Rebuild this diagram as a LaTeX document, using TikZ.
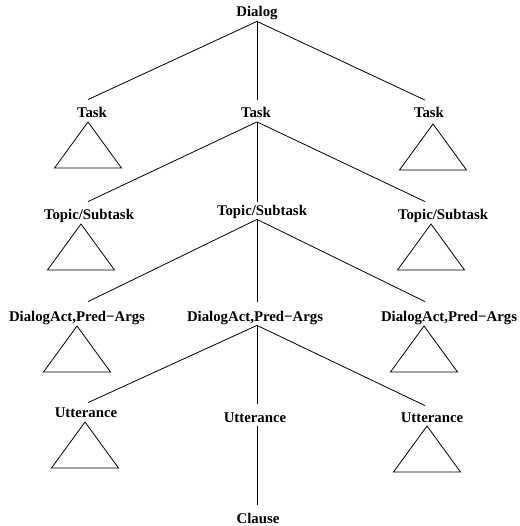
\documentclass[tikz,border=0pt]{standalone}
\usepackage{fontspec}
\setmainfont{Liberation Serif}

\tikzset{
  lbl/.style={inner sep=0pt,text height=10pt,text depth=3pt,
    font=\fontsize{14.8}{16}\selectfont\bfseries},
  subtree/.pic={\draw (0,0) -- (-33.5,46) -- (33.5,46) -- cycle;}
}

\begin{document}
\begin{tikzpicture}
  [x=1pt,y=-1pt,line width=0.8pt]
  \useasboundingbox (0,0) rectangle (519,526);
  % columns the branches run to
  \coordinate (cL) at (88,0);
  \coordinate (cM) at (257,0);
  \coordinate (cR) at (425,0);

  \node[lbl] (dlg) at (257,13.5) {Dialog};

  \node[lbl] (task1) at (92,114) {Task};
  \node[lbl] (task2) at (256,114) {Task};
  \node[lbl] (task3) at (429,114.5) {Task};

  \node[lbl] (top1) at (89,215.5) {Topic/Subtask};
  \node[lbl] (top2) at (262,211.5) {Topic/Subtask};
  \node[lbl] (top3) at (443,215.5) {Topic/Subtask};

  \node[lbl] (da1) at (77,317.5) {DialogAct,Pred−Args};
  \node[lbl] (da2) at (255,317.5) {DialogAct,Pred−Args};
  \node[lbl] (da3) at (449,317.5) {DialogAct,Pred−Args};

  \node[lbl] (utt1) at (86,413.5) {Utterance};
  \node[lbl] (utt2) at (255,418.5) {Utterance};
  \node[lbl] (utt3) at (432,418.5) {Utterance};

  \node[lbl] (cl) at (258,519.5) {Clause};

  % branches
  \foreach \from/\to/\col/\gap in {dlg/task1/cL/7.5,dlg/task2/cM/7.5,dlg/task3/cR/7.5,
      task2/top1/cL/7,task2/top2/cM/3,task2/top3/cR/7,
      top2/da1/cL/9,top2/da2/cM/9,top2/da3/cR/9,
      da2/utt1/cL/4,da2/utt2/cM/8,da2/utt3/cR/6,
      utt2/cl/cM/8}
    \draw ([yshift=-1pt]\from.south -| cM) -- ([yshift=\gap pt]\to.north -| \col);

  % collapsed subtrees
  \pic at (88,122) {subtree};
  \pic at (433,124) {subtree};
  \pic at (81,224) {subtree};
  \pic at (431,224) {subtree};
  \pic at (77,326) {subtree};
  \pic at (424,326) {subtree};
  \pic at (85,422) {subtree};
  \pic at (427,426) {subtree};

\end{tikzpicture}
\end{document}
